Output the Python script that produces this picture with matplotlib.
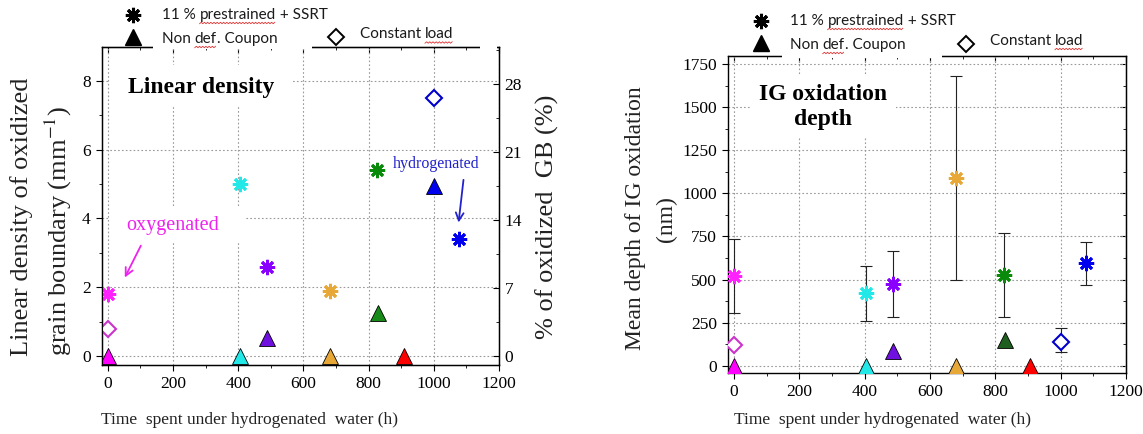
import numpy as np
import matplotlib
matplotlib.use('Agg')
import matplotlib.pyplot as plt
from matplotlib.patches import Rectangle
from matplotlib.ticker import MultipleLocator

plt.rcParams['font.family'] = 'Liberation Serif'
plt.rcParams['mathtext.fontset'] = 'stix'

# 11 % prestrained + SSRT (stars)
star_time = [0, 405, 487, 680, 826, 1078]
star_colors = ['#FF22FF', '#22E8E8', '#8A00FF', '#E8A838', '#0A8A0A', '#0000EE']
star_density = [1.8, 5.0, 2.6, 1.9, 5.4, 3.4]
star_depth = [520, 420, 475, 1090, 526, 595]
star_depth_lo = [305, 258, 284, 497, 285, 468]
star_depth_hi = [735, 576, 665, 1682, 768, 716]

# Non def. coupon (triangles)
tri_time = [0, 405, 487, 680, 830, 907, 1001]
tri_colors = ['#FF00FF', '#22E8E8', '#7010E0', '#E8A838', '#178A17', '#FF0000', '#0000EE']
tri_colors_depth = ['#FF00FF', '#22E8E8', '#7010E0', '#E8A838', '#1E5E1E', '#FF0000', '#0000EE']
tri_density = [0, 0, 0.53, 0, 1.25, 0, 4.95]
tri_depth = [0, 0, 87, 0, 148, 0, np.nan]

# Constant load (open diamonds)
dia_time = [0, 1000]
dia_colors = ['#CC33CC', '#0000CC']
dia_density = [0.8, 7.5]
dia_depth = [122, 140]
dia_depth_lo = [122, 78]
dia_depth_hi = [122, 217]

pct_ticks = [0, 7, 14, 21, 28]
pct_per_density = 28 / 7.9

W, H = 1143, 434
fig = plt.figure(figsize=(W / 100, H / 100), dpi=100)
STAR = (8, 2, 0)


def px_axes(l, t, r, b):
    return fig.add_axes([l / W, 1 - b / H, (r - l) / W, (b - t) / H])


def dress(ax, xlim, ylim, ymaj, ymin):
    ax.set_xlim(xlim)
    ax.set_ylim(ylim)
    ax.xaxis.set_major_locator(MultipleLocator(200))
    ax.xaxis.set_minor_locator(MultipleLocator(100))
    ax.yaxis.set_major_locator(MultipleLocator(ymaj))
    ax.yaxis.set_minor_locator(MultipleLocator(ymin))
    ax.tick_params(which='both', direction='out', labelsize=12.5, top=False, right=False)
    ax.tick_params(which='major', length=4, pad=4)
    ax.tick_params(which='minor', length=2.5)
    ax.grid(True, which='major', ls=(0, (1.5, 2)), color='#999999', lw=0.8)
    ax.set_axisbelow(True)
    top = ax.secondary_xaxis('top')
    top.xaxis.set_major_locator(MultipleLocator(200))
    top.xaxis.set_minor_locator(MultipleLocator(100))
    top.tick_params(which='both', direction='in', labeltop=False)
    top.tick_params(which='major', length=4)
    top.tick_params(which='minor', length=2.5)
    for s in ax.spines.values():
        s.set_linewidth(1.0)


# ---- left panel: linear density
ax1 = px_axes(101.7, 47, 499, 365)
dress(ax1, (-19, 1200), (-0.26, 8.98), 2, 1)

for t, v, c in zip(star_time, star_density, star_colors):
    ax1.plot(t, v, ls='none', marker=STAR, ms=11, mew=2, color=c, zorder=4)
for t, v, c in zip(tri_time, tri_density, tri_colors):
    ax1.plot(t, v, ls='none', marker='^', ms=11, mfc=c, mec='black', mew=0.6, zorder=4)
for t, v, c in zip(dia_time, dia_density, dia_colors):
    ax1.plot(t, v, ls='none', marker='D', ms=8, mfc='white', mec=c, mew=1.5, zorder=4)

ax1.add_patch(Rectangle((6, 7.3), 562, 1.16, fc='white', ec='none', zorder=1))
ax1.add_patch(Rectangle((5, 3.3), 415, 1.05, fc='white', ec='none', zorder=1))
ax1.add_patch(Rectangle((860, 4.75), 290, 1.2, fc='white', ec='none', zorder=1))
ax1.text(61, 7.79, 'Linear density', fontsize=17, fontweight='bold', va='center', zorder=5)
ax1.text(55, 3.8, 'oxygenated', fontsize=14.5, color='#EE22EE', va='center', zorder=5)
ax1.text(875, 5.58, 'hydrogenated', fontsize=11.5, color='#2222CC', va='center', zorder=5)
ax1.annotate('', xy=(48, 2.21), xytext=(105, 3.28),
             arrowprops=dict(arrowstyle='->', color='#EE22EE', lw=1.3, mutation_scale=14), zorder=5)
ax1.annotate('', xy=(1075, 3.8), xytext=(1092, 5.2),
             arrowprops=dict(arrowstyle='->', color='#2222CC', lw=1.3, mutation_scale=14), zorder=5)

ax2 = ax1.twinx()
ax2.set_ylim(-0.26 * pct_per_density, 8.98 * pct_per_density)
ax2.set_yticks(pct_ticks)
ax2.yaxis.set_minor_locator(MultipleLocator(3.5))
ax2.tick_params(which='both', direction='in', labelsize=12.5, pad=4)
ax2.tick_params(which='major', length=4)
ax2.tick_params(which='minor', length=2.5)

# ---- right panel: IG oxidation depth
ax3 = px_axes(728.3, 55.7, 1126, 372.7)
dress(ax3, (-18, 1200), (-41, 1800), 250, 125)
right = ax3.secondary_yaxis('right')
right.yaxis.set_major_locator(MultipleLocator(250))
right.yaxis.set_minor_locator(MultipleLocator(125))
right.tick_params(which='both', direction='in', labelright=False)
right.tick_params(which='major', length=4)
right.tick_params(which='minor', length=2.5)

ax3.errorbar(star_time, star_depth,
             yerr=[np.subtract(star_depth, star_depth_lo), np.subtract(star_depth_hi, star_depth)],
             fmt='none', ecolor='#222222', elinewidth=0.8, capsize=4, capthick=0.8, zorder=3)
ax3.errorbar(dia_time, dia_depth,
             yerr=[np.subtract(dia_depth, dia_depth_lo), np.subtract(dia_depth_hi, dia_depth)],
             fmt='none', ecolor='#222222', elinewidth=0.8, capsize=4, capthick=0.8, zorder=3)
for t, v, c in zip(star_time, star_depth, star_colors):
    ax3.plot(t, v, ls='none', marker=STAR, ms=11, mew=2, color=c, zorder=4)
for t, v, c in zip(tri_time, tri_depth, tri_colors_depth):
    ax3.plot(t, v, ls='none', marker='^', ms=11, mfc=c, mec='black', mew=0.6, zorder=4)
for t, v, c in zip(dia_time, dia_depth, dia_colors):
    ax3.plot(t, v, ls='none', marker='D', ms=8, mfc='white', mec=c, mew=1.5, zorder=4)

ax3.add_patch(Rectangle((48, 1320), 448, 370, fc='white', ec='none', zorder=1))
ax3.text(271, 1500, 'IG oxidation\ndepth', fontsize=17, fontweight='bold',
         ha='center', va='center', linespacing=1.25, zorder=5)

# ---- overlay in pixel coordinates: legends, labels, covers
ov = fig.add_axes([0, 0, 1, 1], zorder=10)
ov.set_xlim(0, W)
ov.set_ylim(H, 0)
ov.axis('off')

for x0, y0, w, h in [(153, 38, 159, 10.5), (480, 38, 17, 10.5), (782, 47, 160, 10.5)]:
    ov.add_patch(Rectangle((x0, y0), w, h, fc='white', ec='none'))

renderer = fig.canvas.get_renderer()


def legend_text(x, y, parts, size=11):
    for s, wavy in parts:
        t = ov.text(x, y, s, fontsize=size, family='Lato', color='#1a1a1a', va='center', ha='left')
        bb = t.get_window_extent(renderer=renderer)
        if wavy:
            xs = np.arange(x, x + bb.width, 1.6)
            yb = H - bb.y0 + 1.0
            ys = yb + 0.7 * (-1) ** np.arange(len(xs))
            ov.plot(xs, ys, color='#E03030', lw=0.6)
        x += bb.width


for dx, dy in [(0, 0), (628, 6)]:
    ov.plot(133 + dx, 15 + dy, ls='none', marker=STAR, ms=11, mew=2.2, color='black')
    ov.plot(133 + dx, 37 + dy, ls='none', marker='^', ms=11, color='black')
    legend_text(162 + dx, 15 + dy, [('11 % ', False), ('prestrained', True), (' + SSRT', False)])
    legend_text(162 + dx, 39 + dy, [('Non ', False), ('def', True), ('. Coupon', False)])

ov.plot(336, 37, ls='none', marker='D', ms=8.5, mfc='white', mec='black', mew=1.4)
legend_text(360, 34.5, [('Constant ', False), ('load', True)])
ov.plot(966, 44, ls='none', marker='D', ms=8.5, mfc='white', mec='black', mew=1.4)
legend_text(990, 41, [('Constant ', False), ('load', True)])

# axis titles
lab = dict(color='#222222', rotation=90, ha='center')
ov.text(22, 356, 'Linear density of oxidized', fontsize=19, va='bottom', **lab)
ov.text(58, 356, 'grain boundary (mm$^{-1}$)', fontsize=19, va='bottom', **lab)
ov.text(547, 217, '% of oxidized  GB (%)', fontsize=19, va='center', **lab)
ov.text(636, 218, 'Mean depth of IG oxidation', fontsize=17, va='center', **lab)
ov.text(666, 219, '(nm)', fontsize=17, va='center', **lab)
for x0 in [101, 734]:
    ov.text(x0, 420, 'Time  spent under hydrogenated  water (h)', fontsize=12.5,
            color='#222222', ha='left', va='center')

fig.savefig('out.png', dpi=100)
